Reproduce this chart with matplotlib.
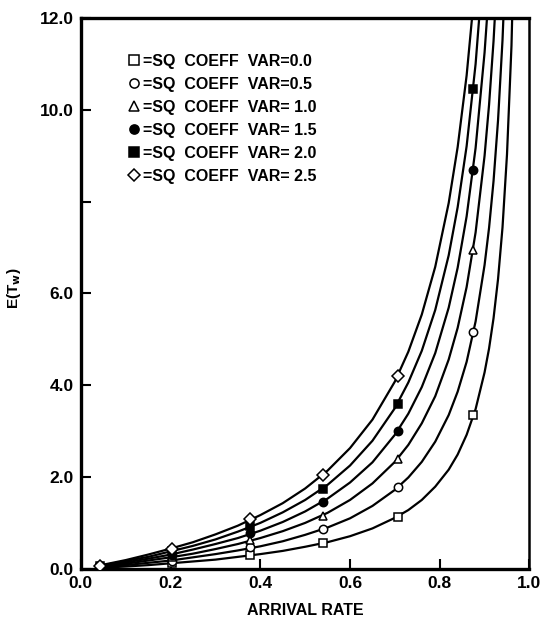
import matplotlib
matplotlib.use("Agg")
import matplotlib.pyplot as plt

plt.rcParams['font.family'] = ['Liberation Sans', 'DejaVu Sans']
plt.rcParams['font.weight'] = 'bold'

# curve points (arrival rate, E(Tw))
rate = [0.04, 0.10, 0.15, 0.20, 0.25, 0.30, 0.35, 0.40, 0.45, 0.50, 0.55, 0.60,
        0.65, 0.70, 0.73, 0.76, 0.79, 0.82, 0.84, 0.86, 0.88, 0.90, 0.91, 0.92,
        0.93, 0.94, 0.95, 0.96, 0.97]

wait_00 = [0.02, 0.05, 0.08, 0.12, 0.16, 0.20, 0.26, 0.32, 0.39, 0.48, 0.58, 0.71,
           0.88, 1.11, 1.28, 1.50, 1.79, 2.16, 2.49, 2.92, 3.48, 4.28, 4.80, 5.46,
           6.31, 7.44, 9.03, 11.40, 15.36]
wait_05 = [0.03, 0.08, 0.13, 0.18, 0.25, 0.32, 0.40, 0.49, 0.60, 0.74, 0.90, 1.10,
           1.37, 1.72, 1.99, 2.33, 2.77, 3.35, 3.86, 4.51, 5.39, 6.62, 7.43, 8.45,
           9.77, 11.52, 13.97]
wait_10 = [0.04, 0.11, 0.18, 0.25, 0.33, 0.43, 0.54, 0.67, 0.82, 1.00, 1.22, 1.50,
           1.86, 2.33, 2.70, 3.17, 3.76, 4.56, 5.25, 6.14, 7.33, 9.00, 10.11, 11.50,
           13.29]
wait_15 = [0.05, 0.14, 0.22, 0.31, 0.42, 0.54, 0.67, 0.83, 1.02, 1.25, 1.53, 1.88,
           2.32, 2.92, 3.38, 3.96, 4.70, 5.69, 6.56, 7.68, 9.17, 11.25, 12.64]
wait_20 = [0.06, 0.17, 0.26, 0.38, 0.50, 0.64, 0.81, 1.00, 1.23, 1.50, 1.83, 2.25,
           2.79, 3.50, 4.06, 4.75, 5.64, 6.83, 7.88, 9.21, 11.00, 13.50]
wait_25 = [0.07, 0.19, 0.31, 0.44, 0.58, 0.75, 0.94, 1.17, 1.43, 1.75, 2.14, 2.63,
           3.25, 4.08, 4.73, 5.54, 6.58, 7.97, 9.19, 10.75, 12.83]

# plotted symbols
mark_rate = [0.042, 0.202, 0.376, 0.54, 0.708, 0.875]
mark_00 = [0.02, 0.12, 0.31, 0.56, 1.13, 3.35]
mark_05 = [0.03, 0.18, 0.47, 0.86, 1.78, 5.15]
mark_10 = [0.04, 0.25, 0.63, 1.15, 2.40, 6.95]
mark_15 = [0.05, 0.31, 0.78, 1.46, 3.00, 8.70]
mark_20 = [0.06, 0.38, 0.94, 1.74, 3.59, 10.45]
mark_25 = [0.07, 0.44, 1.09, 2.04, 4.20]

labels = ["=SQ  COEFF  VAR=0.0", "=SQ  COEFF  VAR=0.5", "=SQ  COEFF  VAR= 1.0",
          "=SQ  COEFF  VAR= 1.5", "=SQ  COEFF  VAR= 2.0", "=SQ  COEFF  VAR= 2.5"]

curves = [wait_00, wait_05, wait_10, wait_15, wait_20, wait_25]
marks = [mark_00, mark_05, mark_10, mark_15, mark_20, mark_25]
styles = [('s', 'white'), ('o', 'white'), ('^', 'white'),
          ('o', 'black'), ('s', 'black'), ('D', 'white')]

fig = plt.figure(figsize=(5.43, 6.23), dpi=100)
ax = fig.add_axes([0.149, 0.087, 0.826, 0.884])

handles = []
for ys, ms, (mk, fc), lab in zip(curves, marks, styles, labels):
    ax.plot(rate[:len(ys)], ys, color='black', lw=1.6, zorder=2)
    h, = ax.plot(mark_rate[:len(ms)], ms, linestyle='none', marker=mk,
                 markersize=6, markerfacecolor=fc, markeredgecolor='black',
                 markeredgewidth=1.1, label=lab, zorder=3)
    handles.append(h)

ax.set_xlim(0, 1.0)
ax.set_ylim(0, 12.0)
ax.set_xticks([0.0, 0.2, 0.4, 0.6, 0.8, 1.0])
ax.set_xticklabels(['0.0', '0.2', '0.4', '0.6', '0.8', '1.0'])
ax.set_yticks([0, 2, 4, 6, 8, 10, 12])
ax.set_yticklabels(['0.0', '2.0', '4.0', '6.0', '', '10.0', '12.0'])
ax.tick_params(direction='in', length=7, width=1.5, labelsize=12.5, pad=5)

for side in ['left', 'bottom', 'top']:
    ax.spines[side].set_linewidth(2.4)
ax.spines['right'].set_linewidth(1.8)

ax.set_xlabel('ARRIVAL RATE', fontsize=11.5, fontweight='bold', labelpad=9)
ax.set_ylabel(r'E(T$_\mathbf{w}$)', fontsize=11, fontweight='bold', labelpad=12)
ax.yaxis.set_label_coords(-0.13, 0.51)

ax.legend(handles=handles, loc='upper left', bbox_to_anchor=(0.08, 0.955),
          frameon=False, handlelength=0.8, handletextpad=0.15, labelspacing=0.5,
          borderpad=0.2, markerscale=1.1, prop={'size': 11.5, 'weight': 'bold'})

fig.savefig('out.png', dpi=100)
